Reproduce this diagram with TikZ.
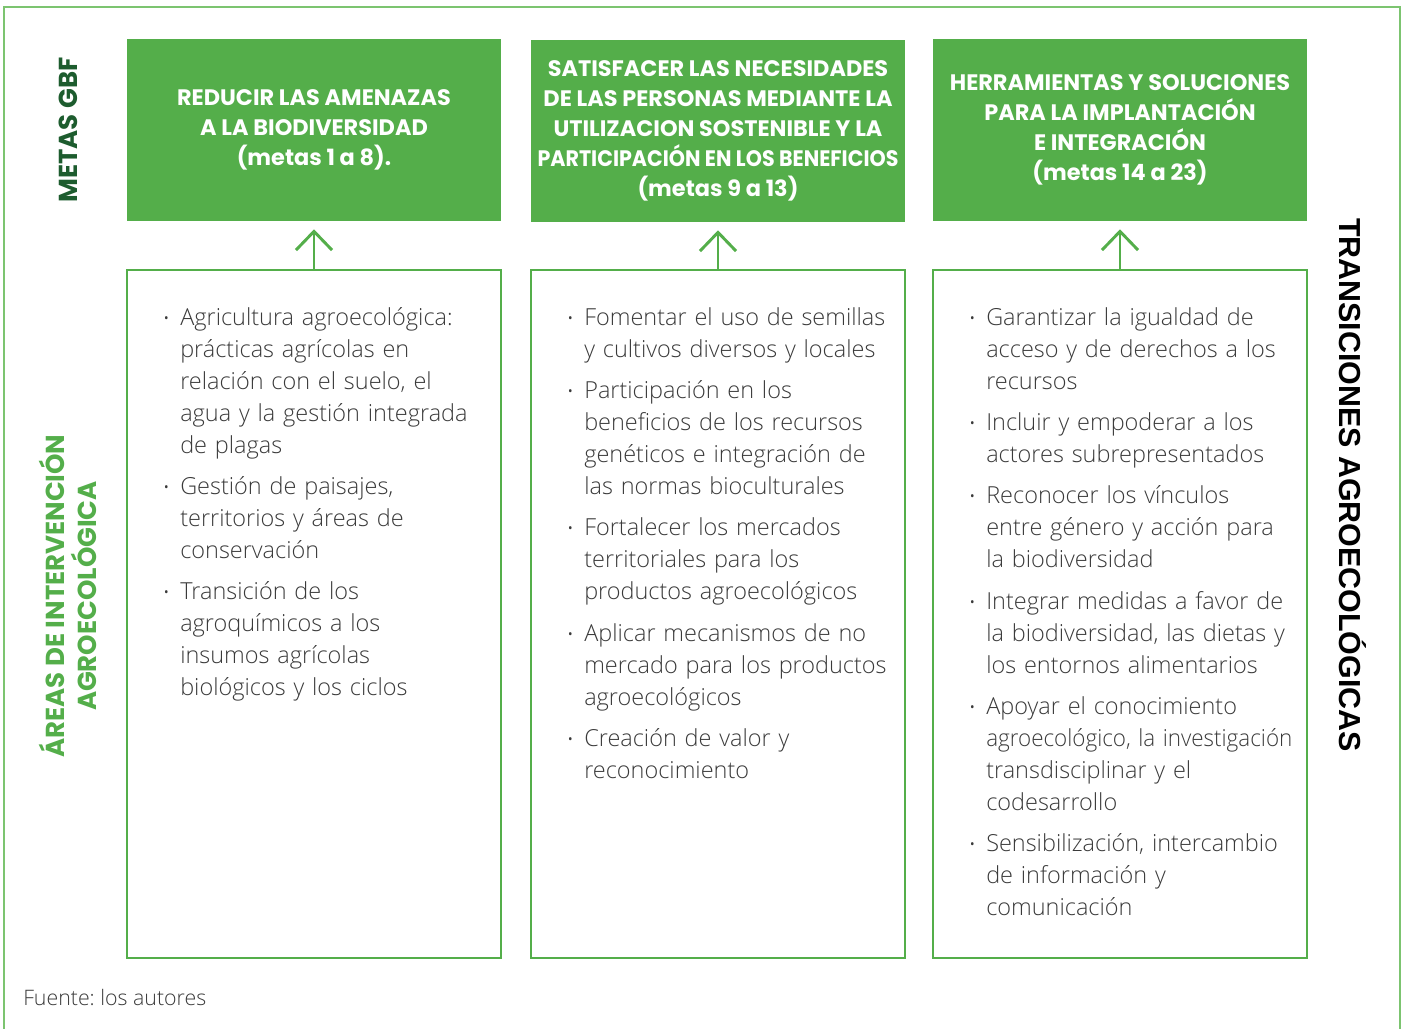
\documentclass[tikz,border=0pt]{standalone}
\usepackage{fontspec}
\setmainfont{Open Sans Light}
\newfontfamily\headfont{Poppins}
\newfontfamily\sidefont{Liberation Sans}
\usepackage{enumitem}
\usepackage{graphicx}
\usetikzlibrary{arrows.meta}
\definecolor{gbfgreen}{HTML}{54AE4A}
\definecolor{framegreen}{HTML}{7CC470}
\definecolor{darkgreen}{HTML}{1D5C2E}
\definecolor{bodygray}{HTML}{3A3A3A}
\setlist[itemize]{label=\raisebox{0.05em}{\fontsize{13}{13}\selectfont\textbullet},
  leftmargin=13.5pt, labelsep=8pt, itemsep=7pt, parsep=0pt, topsep=0pt, partopsep=0pt}
\frenchspacing

\begin{document}
\begin{tikzpicture}[x=0.75pt, y=-0.75pt,
    goal/.style={fill=gbfgreen, minimum width=280.5pt, minimum height=136.5pt,
      align=center, text=white, inner sep=0pt,
      font=\headfont\bfseries\fontsize{16.8}{22.5}\selectfont},
    area/.style={draw=gbfgreen, line width=2.2pt, minimum width=280.5pt,
      minimum height=516pt, inner sep=0pt},
    items/.style={anchor=north west, inner sep=0pt, text width=285pt,
      text=bodygray, font=\fontsize{17.6}{24}\selectfont},
    uparrow/.style={-{Straight Barb[length=14pt, width=27pt]}, gbfgreen,
      line width=2.2pt, shorten >=6pt},
    sidelabel/.style={font=\headfont\bfseries\fontsize{19.5}{24}\selectfont, align=center}]
  \useasboundingbox (0,0) rectangle (1405,1028);
  % outer frame
  \draw[framegreen, line width=1.5pt] (4,1030) -- (4,7) -- (1400,7) -- (1400,1030);

  % metas GBF
  \node[goal] (g1) at (314,130) {REDUCIR LAS AMENAZAS\\A LA BIODIVERSIDAD\\(metas 1 a 8).};
  \node[goal] (g2) at (718,131) {SATISFACER LAS NECESIDADES\\DE LAS PERSONAS MEDIANTE LA\\UTILIZACION SOSTENIBLE Y LA\\\scalebox{0.92}[1]{PARTICIPACIÓN EN LOS BENEFICIOS}\\(metas 9 a 13)};
  \node[goal] (g3) at (1120,130) {HERRAMIENTAS Y SOLUCIONES\\PARA LA IMPLANTACIÓN\\E INTEGRACIÓN\\(metas 14 a 23)};

  % areas de intervencion
  \node[area] (a1) at (314,614) {};
  \node[area] (a2) at (718,614) {};
  \node[area] (a3) at (1120,614) {};

  \draw[uparrow] (a1.north) -- (g1.south);
  \draw[uparrow] (a2.north) -- (g2.south);
  \draw[uparrow] (a3.north) -- (g3.south);

  \node[items] (l1) at (162,293) {\begin{itemize}
    \item Agricultura agroecológica:\newline prácticas agrícolas en\newline relación con el suelo, el\newline agua y la gestión integrada\newline de plagas
    \item Gestión de paisajes,\newline territorios y áreas de\newline conservación
    \item Transición de los\newline agroquímicos a los\newline insumos agrícolas\newline biológicos y los ciclos
  \end{itemize}};
  \node[items] (l2) at (566,293) {\begin{itemize}
    \item Fomentar el uso de semillas\newline y cultivos diversos y locales
    \item Participación en los\newline beneficios de los recursos\newline genéticos e integración de\newline las normas bioculturales
    \item Fortalecer los mercados\newline territoriales para los\newline productos agroecológicos
    \item Aplicar mecanismos de no\newline mercado para los productos\newline agroecológicos
    \item Creación de valor y\newline reconocimiento
  \end{itemize}};
  \node[items] (l3) at (968,293) {\begin{itemize}
    \item Garantizar la igualdad de\newline acceso y de derechos a los\newline recursos
    \item Incluir y empoderar a los\newline actores subrepresentados
    \item Reconocer los vínculos\newline entre género y acción para\newline la biodiversidad
    \item Integrar medidas a favor de\newline la biodiversidad, las dietas y\newline los entornos alimentarios
    \item Apoyar el conocimiento\newline \scalebox{0.955}[1]{agroecológico, la investigación}\newline transdisciplinar y el\newline codesarrollo
    \item Sensibilización, intercambio\newline de información y\newline comunicación
  \end{itemize}};

  % side labels
  \node[sidelabel, rotate=90, text=darkgreen] (metas) at (68,130) {METAS GBF};
  \node[sidelabel, rotate=90, text=gbfgreen] (areas) at (68,596) {ÁREAS DE INTERVENCIÓN\\AGROECOLÓGICA};
  \node[rotate=-90, font=\sidefont\bfseries\fontsize{22.8}{24}\selectfont] (trans) at (1353,485) {TRANSICIONES AGROECOLÓGICAS};

  \node[anchor=base west, inner sep=0pt, text=bodygray, font=\fontsize{16}{20}\selectfont] (fuente) at (23,1005) {Fuente: los autores};
\end{tikzpicture}
\end{document}
